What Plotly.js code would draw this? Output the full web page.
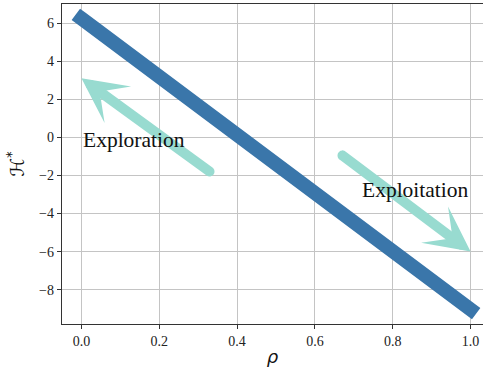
<!DOCTYPE html>
<html>
<head>
<meta charset="utf-8">
<script src="https://cdn.plot.ly/plotly-3.0.1.min.js"></script>
<style>
  html, body { margin: 0; padding: 0; overflow: hidden; background: #fff; }
  .scatterlayer .js-line { stroke-linecap: square !important; }
  g.annotation-arrow-g path:first-child { stroke-linecap: round !important; }
</style>
</head>
<body>
<div id="chart" style="width:483px;height:367px;"></div>
<script>
// Main line: H* versus rho
const rho = [0, 1];
const Hstar = [6.24, -9.04];

// Arrows (tail -> head), in data coordinates
const arrowTailX = [0.333, 0.667];
const arrowTailY = [-1.85, -0.90];
const arrowHeadX = [0.0, 1.0];
const arrowHeadY = [3.1, -6.0];

// Arrow labels
const labelText = ['Exploration', 'Exploitation'];
const labelX = [0.0, 1.0];
const labelY = [-0.13, -2.75];
const labelAnchor = ['left', 'right'];

// Axis ticks
const xTicks = [0.0, 0.2, 0.4, 0.6, 0.8, 1.0];
const yTicks = [-8, -6, -4, -2, 0, 2, 4, 6];

const arrowColor = '#98dbd0';
const lineColor = '#3a76aa';

const traces = [{
  x: rho,
  y: Hstar,
  type: 'scatter',
  mode: 'lines',
  line: { color: lineColor, width: 14 },
  hoverinfo: 'skip',
  showlegend: false
}];

const annotations = [];
for (let i = 0; i < arrowHeadX.length; i++) {
  annotations.push({
    x: arrowHeadX[i], y: arrowHeadY[i], xref: 'x', yref: 'y',
    ax: arrowTailX[i], ay: arrowTailY[i], axref: 'x', ayref: 'y',
    text: '', showarrow: true,
    arrowhead: 3, arrowsize: 0.75, arrowwidth: 10,
    arrowcolor: arrowColor, standoff: 0
  });
}
for (let i = 0; i < labelText.length; i++) {
  annotations.push({
    x: labelX[i], y: labelY[i], xref: 'x', yref: 'y',
    text: labelText[i], showarrow: false,
    xanchor: labelAnchor[i], yanchor: 'middle',
    font: { family: 'Liberation Serif, Times New Roman, serif', size: 21.5, color: '#111' }
  });
}

const layout = {
  width: 483, height: 367,
  margin: { l: 62, r: 0, t: 4, b: 43, pad: 0 },
  paper_bgcolor: '#fff', plot_bgcolor: '#fff',
  showlegend: false,
  xaxis: {
    range: [-0.05, 1.032],
    tickvals: xTicks, tickformat: '.1f',
    showgrid: true, gridcolor: '#c4c4c4', gridwidth: 1,
    zeroline: false,
    showline: true, linecolor: '#333', linewidth: 1.2, mirror: true,
    ticks: 'outside', ticklen: 4, tickwidth: 1, tickcolor: '#333',
    tickfont: { family: 'Liberation Serif, Times New Roman, serif', size: 14, color: '#222' },
    title: { text: '<i>ρ</i>', standoff: 6,
      font: { family: 'DejaVu Sans, sans-serif', size: 18, color: '#111' } }
  },
  yaxis: {
    range: [-9.8, 7.0],
    tickvals: yTicks,
    showgrid: true, gridcolor: '#c4c4c4', gridwidth: 1,
    zeroline: false,
    showline: true, linecolor: '#333', linewidth: 1.2, mirror: false,
    ticks: 'outside', ticklen: 4, tickwidth: 1, tickcolor: '#333',
    tickfont: { family: 'Liberation Serif, Times New Roman, serif', size: 14, color: '#222' },
    title: { text: 'ℋ<sup>*</sup>', standoff: 9,
      font: { family: 'DejaVu Sans, sans-serif', size: 19, color: '#111' } }
  },
  annotations: annotations
};

Plotly.newPlot('chart', traces, layout, { staticPlot: true, displayModeBar: false });
</script>
</body>
</html>
